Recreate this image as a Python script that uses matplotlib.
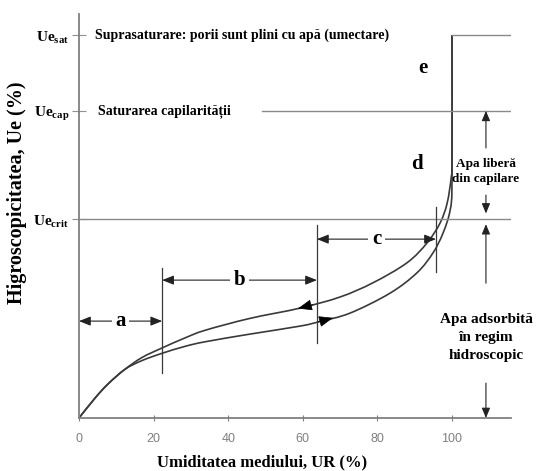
import numpy as np
import matplotlib
matplotlib.use("Agg")
import matplotlib.pyplot as plt
from matplotlib.path import Path
from matplotlib.patches import PathPatch

# ---------------- data ----------------
# Desorption branch (upper curve), UR in %, Ue in relative units
ur_desorption = [0, 4.3, 7.8, 12.3, 16.9, 22.3, 28.4, 33.8, 45.8, 59.3, 70.0,
                 78.8, 87.9, 93.3, 96.8, 98.7, 99.8, 100, 100]
ue_desorption = [0, 5.2, 8.9, 12.7, 15.8, 18.3, 20.9, 22.9, 26.0, 28.7, 31.6,
                 35.3, 40.5, 45.7, 50.9, 56.1, 62.9, 67.4, 100]
# Adsorption branch (lower curve)
ur_adsorption = [0, 4.3, 7.8, 12.3, 16.9, 22.3, 28.4, 33.8, 45.8, 59.3, 64.6,
                 72.7, 83.4, 90.6, 94.9, 97.6, 99.5, 100, 100]
ue_adsorption = [0, 5.2, 8.9, 12.7, 15.0, 16.9, 18.7, 19.9, 21.9, 24.0, 25.2,
                 27.4, 32.6, 37.9, 43.1, 48.3, 54.3, 62.1, 100]

# characteristic moisture levels
ue_level_names = ["sat", "cap", "crit"]
ue_level_values = [100.0, 80.2, 52.0]

# zone boundaries along UR and zone labels
zone_bounds = [0, 22.3, 63.8, 95.7]
zone_labels = ["a", "b", "c"]
zone_arrow_y = [25.3, 36.0, 46.7]

# direction arrows on the curves (UR position of arrow tip)
desorption_arrow_ur = 58.7
adsorption_arrow_ur = 68.1

x_ticks = [0, 20, 40, 60, 80, 100]

# ---------------- styling ----------------
plt.rcParams["mathtext.fontset"] = "custom"
plt.rcParams["mathtext.bf"] = "Liberation Serif:bold"
plt.rcParams["mathtext.rm"] = "Liberation Serif:bold"
SERIF = "Liberation Serif"
CURVE = "#3a3a3a"
GRIDC = "#8a8a8a"

W, H = 545, 471
fig = plt.figure(figsize=(W / 100, H / 100), dpi=100)
x0, x1 = 79, 511
y0, y1 = 418, 14
ax = fig.add_axes([x0 / W, 1 - y0 / H, (x1 - x0) / W, (y0 - y1) / H])
px_per_x = 3.73
px_per_y = 3.83
XMAX = (x1 - x0) / px_per_x
YMAX = (y0 - y1) / px_per_y
ax.set_xlim(0, XMAX)
ax.set_ylim(0, YMAX)

for s in ["top", "right"]:
    ax.spines[s].set_visible(False)
for s in ["left", "bottom"]:
    ax.spines[s].set_color("#808080")
    ax.spines[s].set_linewidth(1.3)

# ticks
ax.set_xticks(x_ticks)
ax.set_xticklabels([str(t) for t in x_ticks], fontfamily="Liberation Sans",
                   fontsize=9, color="#707070")
ax.tick_params(axis="x", direction="inout", length=5, width=0.8,
               colors="#808080", pad=8)
ax.set_yticks(ue_level_values)
ax.set_yticklabels([r"$\mathbf{Ue}_{\mathbf{%s}}$" % n for n in ue_level_names],
                   fontsize=11)
ax.tick_params(axis="y", direction="inout", length=10, width=0.8,
               colors="#909090", pad=2, labelcolor="black")

# horizontal level lines
ue_sat, ue_cap, ue_crit = ue_level_values
ax.plot([100, XMAX], [ue_sat, ue_sat], color=GRIDC, lw=1.0)
ax.plot([49, XMAX], [ue_cap, ue_cap], color=GRIDC, lw=1.0)
ax.plot([0, XMAX], [ue_crit, ue_crit], color=GRIDC, lw=1.0)

ax.text(4.3, ue_sat, "Suprasaturare: porii sunt plini cu apă (umectare)",
        fontfamily=SERIF, fontweight="bold", fontsize=10, va="center", ha="left")
ax.text(5.1, ue_cap, "Saturarea capilarității",
        fontfamily=SERIF, fontweight="bold", fontsize=10, va="center", ha="left")


# curves: smooth Bezier path through the read points
def smooth_curve(xs, ys, **kw):
    p = np.column_stack([xs, ys]).astype(float)
    n = len(p)
    verts = [p[0]]
    codes = [Path.MOVETO]
    for i in range(n - 1):
        p0 = p[max(i - 1, 0)]
        p1 = p[i]
        p2 = p[i + 1]
        p3 = p[min(i + 2, n - 1)]
        c1 = p1 + (p2 - p0) / 6.0
        c2 = p2 - (p3 - p1) / 6.0
        verts += [c1, c2, p2]
        codes += [Path.CURVE4] * 3
    patch = PathPatch(Path(verts, codes), facecolor="none", **kw)
    ax.add_patch(patch)


smooth_curve(ur_desorption, ue_desorption, edgecolor=CURVE, lw=1.2)
smooth_curve(ur_adsorption, ue_adsorption, edgecolor=CURVE, lw=1.2)


# direction arrows on curves
def curve_arrow(urs, ues, ur_tip, direction):
    ys = np.interp(ur_tip, urs, ues)
    ur_tail = ur_tip + 4.0 * direction
    ye = np.interp(ur_tail, urs, ues)
    ax.annotate("", xy=(ur_tip, ys), xytext=(ur_tail, ye),
                arrowprops=dict(arrowstyle="-|>,head_length=0.9,head_width=0.35",
                                color="black", lw=0.5, shrinkA=0, shrinkB=0))


curve_arrow(ur_desorption[:12], ue_desorption[:12], desorption_arrow_ur, +1)
curve_arrow(ur_adsorption[:12], ue_adsorption[:12], adsorption_arrow_ur, -1)

# zone boundary verticals
ax.plot([zone_bounds[1]] * 2, [11.7, 39.2], color=CURVE, lw=0.9)
ax.plot([zone_bounds[2]] * 2, [19.6, 50.4], color=CURVE, lw=0.9)
ax.plot([zone_bounds[3]] * 2, [38.1, 55.1], color=CURVE, lw=0.9)

arrow_kw = dict(arrowstyle="<|-|>,head_length=0.7,head_width=0.28",
                color="#222222", lw=0.8, shrinkA=0, shrinkB=0)
for i, lab in enumerate(zone_labels):
    xa, xb = zone_bounds[i], zone_bounds[i + 1]
    y = zone_arrow_y[i]
    ax.annotate("", xy=(xa, y), xytext=(xb, y), arrowprops=arrow_kw)
    ax.text((xa + xb) / 2, y, lab, fontfamily=SERIF, fontweight="bold",
            fontsize=15, ha="center", va="center",
            bbox=dict(facecolor="white", edgecolor="none", pad=2.5))

ax.text(90.6, 66.3, "d", fontfamily=SERIF, fontweight="bold", fontsize=15,
        ha="center", va="center")
ax.text(92.2, 91.4, "e", fontfamily=SERIF, fontweight="bold", fontsize=15,
        ha="center", va="center")

# right-hand annotations
xr = 109.1
one_kw = dict(arrowstyle="-|>,head_length=0.6,head_width=0.25",
              color="#222222", lw=0.8, shrinkA=0, shrinkB=0)
ax.annotate("", xy=(xr, ue_cap), xytext=(xr, 70.5), arrowprops=one_kw,
            annotation_clip=False)
ax.annotate("", xy=(xr, 53.4), xytext=(xr, 58.2), arrowprops=one_kw,
            annotation_clip=False)
ax.annotate("", xy=(xr, 50.6), xytext=(xr, 35.2), arrowprops=one_kw,
            annotation_clip=False)
ax.annotate("", xy=(xr, 0.0), xytext=(xr, 9.1), arrowprops=one_kw,
            annotation_clip=False)
ax.text(xr, 64.3, "Apa liberă\ndin capilare", fontfamily=SERIF,
        fontweight="bold", fontsize=9.5, ha="center", va="center",
        linespacing=1.35)
ax.text(xr, 20.9, "Apa adsorbită\nîn regim\nhidroscopic", fontfamily=SERIF,
        fontweight="bold", fontsize=11, ha="center", va="center",
        linespacing=1.5)

# axis titles
fig.text(262 / W, 1 - 462 / H, "Umiditatea mediului, UR (%)", fontfamily=SERIF,
         fontweight="bold", fontsize=12, ha="center", va="center")
fig.text(17 / W, 1 - 193 / H, "Higroscopicitatea, Ue (%)", fontfamily=SERIF,
         fontweight="bold", fontsize=14.5, ha="center", va="center",
         rotation=90)

fig.savefig("out.png", dpi=100)
